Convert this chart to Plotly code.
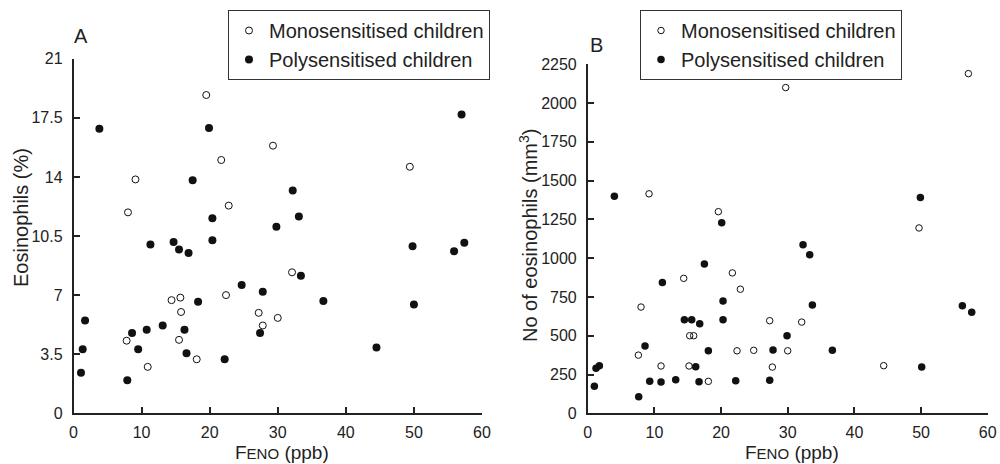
import plotly.graph_objects as go

# Panel A: FENO (ppb) vs eosinophils (%)
mono_a_x = [19.5, 21.7, 9.1, 8.0, 22.8, 29.3, 49.4, 22.4, 14.4, 15.7, 15.8, 7.8, 15.5, 18.1, 10.9, 32.1, 27.2, 30.0, 27.8]
mono_a_y = [18.85, 15.0, 13.85, 11.9, 12.3, 15.85, 14.6, 7.0, 6.7, 6.85, 6.0, 4.3, 4.35, 3.2, 2.75, 8.35, 5.95, 5.65, 5.2]
poly_a_x = [3.8, 19.9, 17.5, 20.4, 57.0, 32.2, 33.1, 29.8, 11.3, 14.7, 15.5, 16.9, 20.4, 24.7, 18.3, 1.7, 8.6, 10.75,
            13.1, 16.3, 1.35, 9.5, 16.6, 22.2, 1.1, 7.9, 49.8, 55.9, 57.4, 33.4, 27.8, 36.7, 50.0, 27.4, 44.5]
poly_a_y = [16.85, 16.9, 13.8, 11.55, 17.7, 13.2, 11.65, 11.05, 10.0, 10.15, 9.7, 9.5, 10.25, 7.6, 6.6, 5.5, 4.75, 4.95,
            5.2, 4.95, 3.8, 3.8, 3.55, 3.2, 2.4, 1.95, 9.9, 9.6, 10.1, 8.15, 7.2, 6.65, 6.45, 4.75, 3.9]

# Panel B: FENO (ppb) vs number of eosinophils (mm3)
mono_b_x = [9.2, 19.6, 29.7, 57.1, 49.7, 21.7, 14.4, 22.9, 8.0, 15.3, 15.9, 7.6, 22.4, 11.0, 15.2, 18.1, 27.3, 32.1,
            24.9, 30.0, 27.7, 44.4]
mono_b_y = [1415, 1300, 2100, 2190, 1195, 905, 870, 800, 685, 500, 500, 375, 403, 305, 305, 206, 597, 588,
            406, 403, 298, 307]
poly_b_x = [4.0, 20.1, 49.9, 17.5, 11.2, 20.3, 14.5, 15.6, 16.8, 20.3, 8.6, 18.1, 1.25, 1.75, 16.2, 1.0, 9.3, 11.0,
            13.2, 16.7, 22.2, 7.65, 32.3, 33.3, 33.7, 56.2, 57.6, 29.9, 27.8, 36.7, 50.1, 27.3]
poly_b_y = [1400, 1228, 1392, 962, 844, 724, 603, 603, 577, 603, 434, 403, 290, 307, 300, 174, 206, 202,
            217, 204, 210, 107, 1086, 1022, 698, 693, 651, 500, 408, 406, 298, 213]

x_ticks = [0, 10, 20, 30, 40, 50, 60]
a_ticks = [0, 3.5, 7, 10.5, 14, 17.5, 21]
a_tick_text = ["0", "3.5", "7", "10.5", "14", "17.5", "21"]
b_ticks = [0, 250, 500, 750, 1000, 1250, 1500, 1750, 2000, 2250]

series_names = ["Monosensitised children", "Polysensitised children"]

INK = "#111111"
FONT = "Liberation Sans, Arial, sans-serif"

fig = go.Figure()

open_marker = dict(symbol="circle-open", size=7, color=INK, line=dict(width=1, color=INK))
fill_marker = dict(symbol="circle", size=8, color=INK, line=dict(width=0))

fig.add_trace(go.Scatter(x=mono_a_x, y=mono_a_y, mode="markers", name=series_names[0],
                         marker=open_marker, xaxis="x", yaxis="y", legend="legend"))
fig.add_trace(go.Scatter(x=poly_a_x, y=poly_a_y, mode="markers", name=series_names[1],
                         marker=fill_marker, xaxis="x", yaxis="y", legend="legend"))
fig.add_trace(go.Scatter(x=mono_b_x, y=mono_b_y, mode="markers", name=series_names[0],
                         marker=dict(symbol="circle-open", size=6.5, color=INK, line=dict(width=1, color=INK)),
                         xaxis="x2", yaxis="y2", legend="legend2"))
fig.add_trace(go.Scatter(x=poly_b_x, y=poly_b_y, mode="markers", name=series_names[1],
                         marker=dict(symbol="circle", size=7.5, color=INK, line=dict(width=0)),
                         xaxis="x2", yaxis="y2", legend="legend2"))

W, H = 1000, 464

def px_x(p):
    return p / W

def px_y(p):
    return 1 - p / H

axis_common = dict(showline=True, linecolor="#222222", linewidth=1.5, ticks="inside", ticklen=7,
                   tickwidth=1.5, tickcolor="#222222", showgrid=False, zeroline=False, automargin=False,
                   tickfont=dict(family=FONT, size=16, color="#222222"), mirror=False)

legend_common = dict(xanchor="left", yanchor="top", bgcolor="white",
                     bordercolor="#333333", borderwidth=1, font=dict(family=FONT, size=20, color="#222222"),
                     itemwidth=30, tracegroupgap=0)

fig.update_layout(
    template="none",
    width=W, height=H,
    margin=dict(l=0, r=0, t=0, b=0, autoexpand=False),
    paper_bgcolor="white", plot_bgcolor="white",
    font=dict(family=FONT, color="#222222"),
    xaxis=dict(domain=[px_x(73.5), px_x(482)], range=[0, 60], tickvals=x_ticks, anchor="y",
               ticklabelstandoff=4, **axis_common),
    yaxis=dict(domain=[px_y(413.3), px_y(58.7)], range=[0, 21], tickvals=a_ticks, ticktext=a_tick_text,
               anchor="x", ticklabelstandoff=6, **axis_common),
    xaxis2=dict(domain=[px_x(587.7), px_x(987.7)], range=[0, 60], tickvals=x_ticks, anchor="y2",
                ticklabelstandoff=4, **axis_common),
    yaxis2=dict(domain=[px_y(413.3), px_y(64.3)], range=[0, 2250], tickvals=b_ticks, anchor="x2",
                ticklabelstandoff=6, **axis_common),
    legend=dict(x=px_x(228), y=px_y(10), **legend_common),
    legend2=dict(x=px_x(640), y=px_y(10), **legend_common),
    showlegend=True,
)

feno = "F<span style='font-size:15px'>ENO</span> (ppb)"
ann_font = dict(family=FONT, size=20, color="#222222")
title_font = dict(family=FONT, size=19, color="#222222")
fig.add_annotation(text=feno, x=px_x(282), y=px_y(452), xref="paper", yref="paper",
                   showarrow=False, xanchor="center", yanchor="middle", font=title_font)
fig.add_annotation(text=feno, x=px_x(792), y=px_y(452), xref="paper", yref="paper",
                   showarrow=False, xanchor="center", yanchor="middle", font=title_font)
fig.add_annotation(text="Eosinophils (%)", x=px_x(21), y=px_y(218), xref="paper", yref="paper",
                   showarrow=False, textangle=-90, xanchor="center", yanchor="middle", font=ann_font)
fig.add_annotation(text="No of eosinophils (mm<sup>3</sup>)", x=px_x(529), y=px_y(236), xref="paper", yref="paper",
                   showarrow=False, textangle=-90, xanchor="center", yanchor="middle", font=ann_font)
fig.add_annotation(text="A", x=px_x(72), y=px_y(36), xref="paper", yref="paper",
                   showarrow=False, xanchor="left", yanchor="middle", font=ann_font)
fig.add_annotation(text="B", x=px_x(588), y=px_y(44.5), xref="paper", yref="paper",
                   showarrow=False, xanchor="left", yanchor="middle", font=ann_font)

fig.write_html(
    "out.html",
    config={"displayModeBar": False},
    post_script="document.body.style.margin='0';document.body.style.padding='0';document.body.style.overflow='hidden';",
)
